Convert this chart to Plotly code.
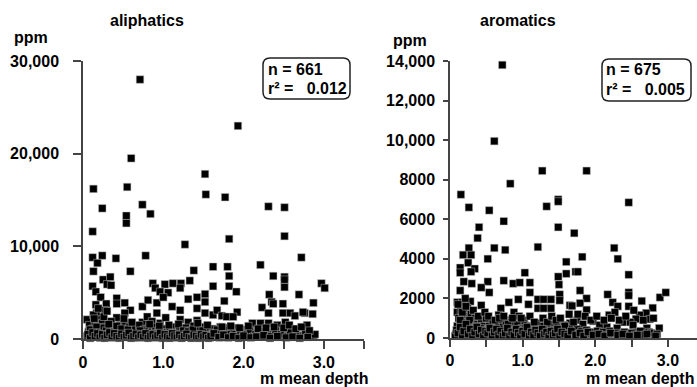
import plotly.graph_objects as go

# ---------------- data: aliphatics (x = m mean depth, y = ppm) ----------------
ali_x = [0.71, 0.60, 0.13, 0.55, 1.52, 1.53, 1.93, 1.77,
         0.24, 0.74, 0.54, 0.54, 0.84, 0.12, 1.27,
         0.12, 0.24, 0.18, 0.41, 0.78, 0.13, 0.59, 1.38, 1.62,
         0.25, 0.34, 0.30, 0.35, 0.12, 0.16, 0.22,
         0.87, 0.90, 1.02, 1.12, 1.22, 0.96, 1.06, 1.21, 1.33, 1.62,
         2.31, 2.51, 2.51, 1.82, 2.72, 2.21, 1.80, 1.82, 1.82, 2.37, 2.51, 2.51, 2.51,
         2.97, 3.01, 1.91, 2.69, 1.76, 2.32, 2.35, 2.37, 2.23, 2.31, 2.49, 2.87, 2.76, 2.86,
         0.29, 0.42, 0.42, 0.52, 0.59, 0.74, 0.81, 0.92, 1.00, 1.11, 1.21, 1.31, 1.42, 1.42, 1.52, 1.52,
         0.16, 0.17, 0.27, 0.42, 0.52, 0.74, 0.80, 0.86, 0.92, 0.96, 1.03, 1.21, 1.31, 1.42, 1.52, 1.62, 0.05,
         1.67, 1.92, 2.49, 2.58, 2.64, 2.74, 1.73, 1.79, 1.87, 2.11, 2.21, 2.31, 2.42, 2.52, 2.61, 2.71,
         2.79, 2.81, 2.87, 2.01, 2.17, 2.27, 2.37, 2.49, 1.81, 1.90, 1.71,
         0.05, 0.07, 0.08, 0.10, 0.11, 0.12, 0.13, 0.14, 0.15, 0.16, 0.17, 0.18, 0.19, 0.20, 0.21, 0.22,
         0.23, 0.24, 0.25, 0.26, 0.27, 0.28, 0.29, 0.30, 0.31, 0.33, 0.34, 0.35, 0.37, 0.38, 0.40, 0.41,
         0.43, 0.44, 0.46, 0.47, 0.49, 0.50, 0.52, 0.53, 0.55, 0.57, 0.58, 0.60, 0.62, 0.64, 0.65, 0.67,
         0.69, 0.70, 0.72, 0.74, 0.76, 0.78, 0.80, 0.82, 0.84, 0.86, 0.88, 0.90, 0.92, 0.94, 0.96, 0.98,
         1.00, 1.02, 1.04, 1.06, 1.08, 1.10, 1.12, 1.14, 1.16, 1.18, 1.20, 1.22, 1.24, 1.26, 1.28, 1.30,
         1.32, 1.34, 1.36, 1.38, 1.40, 1.42, 1.44, 1.46, 1.48, 1.50, 1.52, 1.54, 1.56, 1.58, 1.60, 1.62,
         1.64, 1.66, 1.68, 1.70, 1.72, 1.74, 1.76, 1.78, 1.80, 1.82, 1.85, 1.88, 1.90, 1.93, 1.96, 1.99,
         2.02, 2.05, 2.08, 2.12, 2.15, 2.19, 2.23, 2.26, 2.30, 2.34, 2.40, 2.44, 2.47, 2.55, 2.58, 2.63,
         2.67, 2.74, 2.77, 2.84, 2.89,
         0.09, 0.14, 0.17, 0.21, 0.24, 0.26, 0.29, 0.32, 0.36, 0.39, 0.42, 0.45, 0.48, 0.51, 0.56, 0.61,
         0.66, 0.71, 0.77, 0.83, 0.89, 0.95, 1.01, 1.07, 1.13, 1.19, 1.25, 1.31, 1.37, 1.43, 1.49, 1.55,
         1.61, 1.67, 1.73, 1.79, 1.84, 1.95, 2.06, 2.18, 2.28, 2.38, 2.50, 2.57, 2.65, 2.72, 2.82,
         0.06, 0.09, 0.12, 0.15, 0.18, 0.21, 0.24, 0.27, 0.30, 0.33, 0.36, 0.39, 0.42, 0.45, 0.48, 0.51,
         0.54, 0.57, 0.60, 0.63, 0.66, 0.69, 0.72, 0.75, 0.78, 0.81, 0.84, 0.87, 0.90, 0.93, 0.96, 0.99,
         1.02, 1.05, 1.08, 1.11, 1.14, 1.17, 1.20, 1.23, 1.26, 1.29, 1.32, 1.35, 1.38, 1.41, 1.44, 1.47,
         1.50, 1.53, 1.56, 1.59, 1.63, 1.69, 1.75, 1.81, 1.87, 1.94, 2.00, 2.09, 2.16, 2.25, 2.33, 2.42,
         2.53, 2.61, 2.70, 2.80]
ali_y = [28000, 19500, 16200, 16400, 17800, 15600, 23000, 15300,
         14100, 14500, 13300, 12500, 13500, 11600, 10200,
         8800, 9000, 8200, 8700, 9000, 7300, 7300, 7400, 7800,
         6400, 6700, 5900, 5800, 5700, 5100, 4500,
         6000, 5500, 5900, 6000, 6000, 5100, 5000, 5500, 6300, 5700,
         14300, 14200, 11100, 10800, 8800, 8000, 7800, 6800, 5700, 6800, 6700, 6400, 5600,
         6000, 5500, 5100, 4800, 4100, 4800, 4000, 3800, 3400, 2800, 3800, 3900, 2800, 2700,
         3800, 4400, 3800, 3900, 3100, 3500, 4200, 3900, 4500, 3500, 3100, 4300, 4500, 3300, 4850, 4000,
         3700, 2800, 3100, 2300, 2800, 1800, 2400, 1900, 2800, 1700, 2300, 2100, 1800, 2000, 2800, 2600, 2100,
         3100, 2900, 2800, 2800, 2500, 2900, 2500, 2400, 2400, 1700, 1700, 1700, 1500, 1800, 1000, 400,
         1500, 400, 400, 1000, 600, 400, 600, 800, 1200, 1200, 1300,
         300, 800, 1500, 200, 600, 1100, 2600, 400, 1800, 900, 250, 1400, 3300, 600, 2100, 150,
         1000, 1700, 400, 2400, 800, 1300, 200, 3000, 600, 1100, 300, 1900, 700, 200, 1200, 500,
         900, 200, 1500, 600, 300, 1000, 400, 1700, 200, 800, 1300, 350, 700, 150, 1100, 500,
         250, 1500, 700, 300, 1000, 150, 600, 1200, 400, 800, 200, 1300, 500, 900, 250, 600,
         1100, 300, 700, 150, 900, 450, 1300, 200, 700, 400, 1000, 150, 600, 300, 1200, 500,
         200, 900, 400, 1400, 150, 700, 350, 1000, 200, 600, 1300, 300, 800, 150, 500, 1100,
         250, 700, 400, 150, 900, 300, 600, 200, 1000, 400, 700, 200, 500, 300, 800, 200,
         500, 300, 900, 250, 500, 300, 800, 250, 500, 300, 900, 200, 500, 300, 700, 200,
         400, 250, 600, 300, 500,
         1000, 2200, 1300, 700, 300, 1200, 900, 1600, 400, 800, 1400, 400, 1100, 2200, 1000, 1800,
         200, 900, 500, 1600, 600, 1400, 500, 1500, 600, 1600, 900, 800, 1000, 1700, 900, 1500,
         300, 1000, 1300, 500, 1400, 1200, 1400, 1100, 1200, 1300, 1200, 1500, 1100, 1300, 900,
         500, 100, 700, 300, 600, 150, 500, 100, 450, 700, 150, 600, 300, 100, 550, 200,
         400, 650, 100, 300, 550, 150, 450, 200, 600, 100, 350, 500, 150, 400, 650, 100,
         500, 250, 100, 600, 350, 150, 450, 100, 300, 550, 200, 100, 450, 300, 100, 500,
         250, 400, 100, 300, 600, 200, 450, 150, 300, 100, 350, 150, 250, 400, 100, 300,
         150, 250, 100, 200]

# ---------------- data: aromatics ----------------
aro_x = [0.72, 0.61, 1.27, 0.83, 0.15, 1.49, 1.88,
         0.26, 0.54, 1.33, 1.49, 0.74, 0.40, 1.49, 1.71, 0.38, 1.21, 0.76, 0.61, 0.26, 0.18, 0.29, 0.52,
         0.25, 0.14, 0.34, 0.14, 0.29,
         1.60, 1.60, 1.73, 1.03,
         0.19, 0.30, 0.52, 0.74, 0.87, 0.96, 1.10, 1.49, 1.50,
         0.14, 0.43, 0.54, 1.10,
         0.10, 0.17, 0.28, 0.43, 0.81, 0.94, 0.70, 1.08,
         1.21, 1.29, 1.39, 1.21, 1.29, 1.39, 1.51, 1.51, 1.65,
         2.46, 1.82, 2.26, 2.31, 1.76, 2.46, 1.79, 2.89, 2.97, 2.17, 2.24, 2.31, 2.46, 2.46, 2.46,
         1.88, 1.79, 1.88, 1.68, 2.64, 2.79, 2.70, 2.61, 2.56,
         2.19, 2.27, 2.38, 2.48, 2.52, 2.75, 2.71, 2.88, 2.74, 2.81,
         1.75, 1.83, 1.97, 2.06, 2.16, 2.30, 2.57,
         0.10, 0.23, 0.44, 0.54, 0.67, 0.76, 0.88, 0.95, 1.02, 1.29, 1.43, 1.51, 1.65,
         0.08, 0.10, 0.12, 0.13, 0.15, 0.16, 0.18, 0.19, 0.20, 0.21, 0.22, 0.23, 0.24, 0.25, 0.26, 0.27,
         0.28, 0.29, 0.30, 0.31, 0.33, 0.34, 0.35, 0.37, 0.38, 0.40, 0.41, 0.43, 0.44, 0.46, 0.47, 0.49,
         0.50, 0.52, 0.54, 0.55, 0.57, 0.59, 0.61, 0.63, 0.65, 0.67, 0.69, 0.71, 0.73, 0.75, 0.77, 0.79,
         0.81, 0.83, 0.85, 0.87, 0.89, 0.91, 0.93, 0.95, 0.97, 0.99, 1.01, 1.03, 1.05, 1.07, 1.09, 1.11,
         1.13, 1.15, 1.17, 1.19, 1.21, 1.23, 1.25, 1.27, 1.29, 1.31, 1.33, 1.35, 1.37, 1.39, 1.41, 1.43,
         1.45, 1.47, 1.49, 1.51, 1.53, 1.55, 1.57, 1.59, 1.61, 1.63, 1.66, 1.69, 1.72, 1.75, 1.78, 1.81,
         1.85, 1.88, 1.91, 1.95, 1.99, 2.03, 2.07, 2.11, 2.15, 2.20, 2.24, 2.29, 2.34, 2.40, 2.44, 2.50,
         2.55, 2.62, 2.68, 2.77, 2.85,
         0.11, 0.14, 0.17, 0.20, 0.22, 0.27, 0.32, 0.36, 0.39, 0.42, 0.48, 0.53, 0.58, 0.62, 0.68, 0.74,
         0.80, 0.86, 0.92, 0.98, 1.04, 1.10, 1.16, 1.22, 1.28, 1.34, 1.40, 1.46, 1.52, 1.58, 1.64, 1.70,
         1.76, 1.86, 1.94, 2.02, 2.12, 2.22, 2.33, 2.42, 2.53, 2.66, 2.80,
         0.07, 0.09, 0.11, 0.14, 0.17, 0.19, 0.22, 0.25, 0.28, 0.31, 0.34, 0.37, 0.40, 0.43, 0.46, 0.49,
         0.52, 0.55, 0.58, 0.61, 0.64, 0.67, 0.70, 0.73, 0.76, 0.79, 0.82, 0.85, 0.88, 0.91, 0.94, 0.97,
         1.00, 1.03, 1.06, 1.09, 1.12, 1.15, 1.18, 1.21, 1.24, 1.27, 1.30, 1.33, 1.36, 1.39, 1.42, 1.45,
         1.48, 1.51, 1.54, 1.58, 1.62, 1.67, 1.73, 1.79, 1.84, 1.90, 1.97, 2.05, 2.13, 2.21, 2.31, 2.38,
         2.47, 2.58, 2.71, 2.83]
aro_y = [13800, 9950, 8450, 7800, 7250, 7000, 8450,
         6600, 6450, 6650, 6900, 5900, 5600, 5600, 5300, 5050, 4600, 4450, 4550, 4550, 4200, 4200, 4000,
         3800, 3550, 3500, 3300, 3350,
         3850, 3250, 3350, 3300,
         2850, 2750, 2850, 2900, 2750, 2800, 2800, 3100, 2700,
         2400, 2550, 2300, 2300,
         1800, 1800, 1850, 1650, 1800, 1950, 1500, 1700,
         1950, 1950, 1950, 1500, 1500, 1500, 2200, 1900, 1650,
         6850, 4100, 4550, 4000, 3350, 3200, 2400, 2050, 2300, 2200, 1800, 1600, 2300, 2150, 1600,
         2000, 1760, 1420, 1620, 1870, 1520, 1260, 1160, 960,
         1160, 1300, 800, 800, 650, 950, 500, 500, 300, 150,
         900, 700, 850, 650, 550, 500, 300,
         1300, 1260, 900, 800, 1160, 900, 1300, 1100, 900, 750, 700, 650, 750,
         200, 600, 1000, 300, 1400, 700, 150, 1100, 500, 2000, 250, 800, 1500, 400, 1000, 150,
         600, 1200, 300, 800, 150, 500, 1000, 250, 700, 400, 150, 900, 300, 600, 150, 450,
         1000, 250, 600, 150, 400, 750, 200, 500, 150, 700, 350, 150, 550, 250, 800, 150,
         450, 250, 650, 150, 400, 200, 700, 300, 150, 500, 250, 650, 150, 400, 200, 600,
         300, 150, 500, 250, 750, 150, 400, 200, 600, 300, 150, 450, 250, 700, 150, 400,
         200, 550, 300, 150, 450, 250, 650, 150, 400, 200, 500, 250, 150, 450, 200, 350,
         150, 400, 200, 300, 150, 350, 200, 300, 150, 350, 200, 250, 150, 300, 150, 250,
         150, 350, 150, 250, 200,
         1700, 900, 1300, 300, 1600, 900, 1400, 600, 1100, 500, 1300, 1100, 300, 900, 1000, 1100,
         700, 1000, 400, 1000, 500, 1100, 800, 400, 1000, 800, 1100, 900, 1000, 600, 1200, 800,
         1200, 1100, 900, 1100, 900, 1000, 900, 1100, 1400, 900, 1000,
         100, 400, 250, 550, 100, 350, 700, 200, 450, 100, 300, 550, 200, 400, 100, 350,
         250, 500, 100, 300, 450, 150, 350, 100, 250, 500, 100, 300, 150, 450, 250, 100,
         350, 200, 550, 100, 300, 150, 400, 250, 100, 450, 200, 300, 100, 350, 150, 250,
         450, 100, 300, 200, 100, 350, 150, 250, 100, 300, 150, 200, 100, 250, 150, 200,
         100, 150, 200, 100]

# tick labels
ali_tickvals = [0, 10000, 20000, 30000]
ali_ticktext = ["0", "10,000", "20,000", "30,000"]
aro_tickvals = [0, 2000, 4000, 6000, 8000, 10000, 12000, 14000]
aro_ticktext = ["0", "2000", "4000", "6000", "8000", "10,000", "12,000", "14,000"]
x_tickvals = [0, 0.5, 1.0, 1.5, 2.0, 2.5, 3.0, 3.5]
x_ticktext = ["0", "", "1.0", "", "2.0", "", "3.0", ""]

W, H = 697, 387
FONT = "Liberation Sans, Arial, sans-serif"
FS = 16


def px(x):
    return x / W


def py(y):
    return 1 - y / H


marker = dict(symbol="square", size=7.5, color="black", line=dict(color="#bdbdbd", width=0.5))

fig = go.Figure()
fig.add_trace(go.Scatter(x=ali_x, y=ali_y, mode="markers", marker=marker,
                         xaxis="x", yaxis="y", cliponaxis=False, showlegend=False))
fig.add_trace(go.Scatter(x=aro_x, y=aro_y, mode="markers", marker=marker,
                         xaxis="x2", yaxis="y2", cliponaxis=False, showlegend=False))

tickfont = dict(family=FONT, size=FS, color="black", weight="bold")
axis_common = dict(showline=True, linecolor="#444", linewidth=1.5, ticks="outside",
                   tickcolor="#444", tickwidth=1.5, showgrid=False, zeroline=False,
                   tickfont=tickfont, fixedrange=True, automargin=False)

fig.update_layout(
    template="none",
    width=W, height=H, margin=dict(l=0, r=0, t=0, b=0, pad=0),
    paper_bgcolor="white", plot_bgcolor="white",
    xaxis=dict(domain=[px(83), px(364)], range=[0, 3.5], tickvals=x_tickvals, ticktext=x_ticktext,
               anchor="y", ticklen=8, **axis_common),
    yaxis=dict(domain=[py(339), py(61)], range=[0, 30000], tickvals=ali_tickvals, ticktext=ali_ticktext,
               anchor="x", ticklen=8, ticklabelstandoff=11, **axis_common),
    xaxis2=dict(domain=[px(450), 1.0], range=[0, 3.4], tickvals=x_tickvals, ticktext=x_ticktext,
                anchor="y2", ticklen=7, **axis_common),
    yaxis2=dict(domain=[py(338), py(61)], range=[0, 14000], tickvals=aro_tickvals, ticktext=aro_ticktext,
                anchor="x2", ticklen=5, ticklabelstandoff=5, **axis_common),
)


def label(text, x, y, xanchor="left", size=FS):
    fig.add_annotation(text=text, x=px(x), y=py(y), xref="paper", yref="paper",
                       xanchor=xanchor, yanchor="middle", showarrow=False,
                       font=dict(family=FONT, size=size, color="black", weight="bold"))


label("aliphatics", 147, 20, "center")
label("aromatics", 518, 20, "center")
label("ppm", 12, 38)
label("ppm", 391, 40)
label("m mean depth", 258, 378)
label("m mean depth", 696, 378, "right")
label("n = 661", 266, 69)
label("r\u00b2 =\u00a0\u00a0\u00a00.012", 266, 88)
label("n = 675", 604, 70)
label("r\u00b2 =\u00a0\u00a0\u00a00.005", 604, 90)


def rounded_box(x0, y0, x1, y1, r):
    pts = (f"M {px(x0 + r)},{py(y0)} L {px(x1 - r)},{py(y0)} Q {px(x1)},{py(y0)} {px(x1)},{py(y0 + r)} "
           f"L {px(x1)},{py(y1 - r)} Q {px(x1)},{py(y1)} {px(x1 - r)},{py(y1)} "
           f"L {px(x0 + r)},{py(y1)} Q {px(x0)},{py(y1)} {px(x0)},{py(y1 - r)} "
           f"L {px(x0)},{py(y0 + r)} Q {px(x0)},{py(y0)} {px(x0 + r)},{py(y0)} Z")
    fig.add_shape(type="path", path=pts, xref="paper", yref="paper",
                  line=dict(color="#222", width=1.5), fillcolor="rgba(0,0,0,0)")


rounded_box(263, 58, 350, 99, 7)
rounded_box(602, 59, 691, 101, 7)

fig.write_html("out.html", config={"displayModeBar": False},
               post_script="document.body.style.margin='0';document.body.style.overflow='hidden';")
